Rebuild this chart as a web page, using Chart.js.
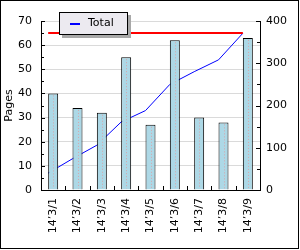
<!DOCTYPE html>
<html>
<head>
<meta charset="utf-8">
<script src="https://cdn.jsdelivr.net/npm/chart.js@4"></script>
<style>
    body { margin: 0; background: #fff; }
    #wrap { position: relative; width: 300px; height: 250px; }
    #frame { position: absolute; left: 0; top: 0; width: 297px; height: 247px; border: 1px solid #000; pointer-events: none; }
    #legend {
        position: absolute; left: 59px; top: 12px; width: 67px; height: 21px;
        border: 1px solid #000; background: #eceaf0; box-shadow: 3px 3px 0 #a8a8a8;
        font: 11px "DejaVu Sans", sans-serif; color: #000;
    }
    #legend .swatch { position: absolute; left: 10px; top: 10px; width: 10px; height: 2px; background: #0000ff; }
    #legend .label { position: absolute; left: 28px; top: 3px; }
</style>
</head>
<body>
<div id="wrap">
    <canvas id="pagesChart" width="300" height="250"></canvas>
    <div id="frame"></div>
    <div id="legend"><span class="swatch"></span><span class="label"></span></div>
</div>
<script>
// === DATA ===
const categories = ['14’3/1', '14’3/2', '14’3/3', '14’3/4', '14’3/5', '14’3/6', '14’3/7', '14’3/8', '14’3/9'];
const pages = [40, 34, 32, 55, 27, 62, 30, 28, 63];
const totals = [40, 74, 106, 161, 188, 250, 280, 308, 371];
const targetLine = [65, 65, 65, 65, 65, 65, 65, 65, 65];

// inward tick marks + dotted centre line in the bars
const innerTicks = {
    id: 'innerTicks',
    afterDraw(chart) {
        const { ctx, chartArea: a, scales } = chart;
        ctx.save();
        ctx.strokeStyle = '#000';
        ctx.lineWidth = 1;
        ctx.beginPath();
        for (let v = 0; v <= 70; v += 5) {
            const y = Math.round(scales.y.getPixelForValue(v)) + 0.5;
            ctx.moveTo(a.left, y); ctx.lineTo(a.left + (v % 10 ? 3 : 4), y);
        }
        for (let v = 0; v <= 400; v += 50) {
            const y = Math.round(scales.y2.getPixelForValue(v)) + 0.5;
            ctx.moveTo(a.right, y); ctx.lineTo(a.right - (v % 100 ? 3 : 4), y);
        }
        for (let i = 1; i < categories.length; i++) {
            const x = Math.round(scales.x.getPixelForValue(i - 0.5)) + 0.5;
            ctx.moveTo(x, a.bottom); ctx.lineTo(x, a.bottom - 4);
        }
        ctx.stroke();

        ctx.strokeStyle = '#d8a4a8';
        ctx.setLineDash([1, 2]);
        ctx.beginPath();
        chart.getDatasetMeta(0).data.forEach(bar => {
            const x = Math.round(bar.x) + 0.5;
            ctx.moveTo(x, bar.y + 2); ctx.lineTo(x, bar.base - 1);
        });
        ctx.stroke();
        ctx.restore();
    }
};

function initPagesChart() {
    const ctx = document.getElementById('pagesChart');
    if (!ctx) return;

    Chart.defaults.font.family = '"DejaVu Sans", sans-serif';
    Chart.defaults.font.size = 11;
    Chart.defaults.color = '#000';

    // bars take 0.41 of a category; the lines run through the bars' left edges
    const shift = 0.5 - 0.41 / 2;

    new Chart(ctx, {
        type: 'bar',
        data: {
            labels: categories,
            datasets: [
                { type: 'bar', label: 'Pages', data: pages, backgroundColor: '#add8e6', borderColor: '#000', borderWidth: 1, barPercentage: 0.41, categoryPercentage: 1, grouped: false, order: 0 },
                { type: 'line', label: 'Total', data: totals.map((v, i) => ({ x: i, y: v })), xAxisID: 'xl', yAxisID: 'y2', borderColor: '#0000ff', borderWidth: 1, pointRadius: 0, tension: 0, order: 1 },
                { type: 'line', label: 'Target', data: targetLine.map((v, i) => ({ x: i, y: v })), xAxisID: 'xl', yAxisID: 'y', borderColor: '#ff0000', borderWidth: 2, pointRadius: 0, tension: 0, order: -1 }
            ]
        },
        options: {
            responsive: false,
            animation: false,
            layout: { padding: { top: 21, left: 0, right: 0, bottom: 0 } },
            plugins: { legend: { display: false }, tooltip: { enabled: false } },
            scales: {
                x: {
                    type: 'category', offset: true,
                    grid: { display: false, drawTicks: false },
                    border: { display: true, color: '#000', width: 1 },
                    ticks: { minRotation: 90, maxRotation: 90, padding: 8, autoSkip: false },
                    afterFit: s => { s.height = 60; }
                },
                xl: { type: 'linear', display: false, offset: false, bounds: 'data', min: -shift, max: categories.length - shift },
                y: {
                    position: 'left', min: 0, max: 70,
                    ticks: { stepSize: 10, padding: 9 },
                    grid: { color: '#dadada', drawTicks: false },
                    border: { display: true, color: '#000', width: 1 },
                    title: { display: true, text: 'Pages', padding: { top: 3, bottom: 0 } },
                    afterFit: s => { s.width = 41; }
                },
                y2: {
                    position: 'right', min: 0, max: 400,
                    ticks: { stepSize: 100, padding: 6 },
                    grid: { display: false, drawTicks: false },
                    border: { display: true, color: '#000', width: 1 },
                    afterFit: s => { s.width = 40; }
                }
            }
        },
        plugins: [innerTicks]
    });

    document.querySelector('#legend .label').textContent = 'Total';
}

document.addEventListener('DOMContentLoaded', initPagesChart);
</script>
</body>
</html>
